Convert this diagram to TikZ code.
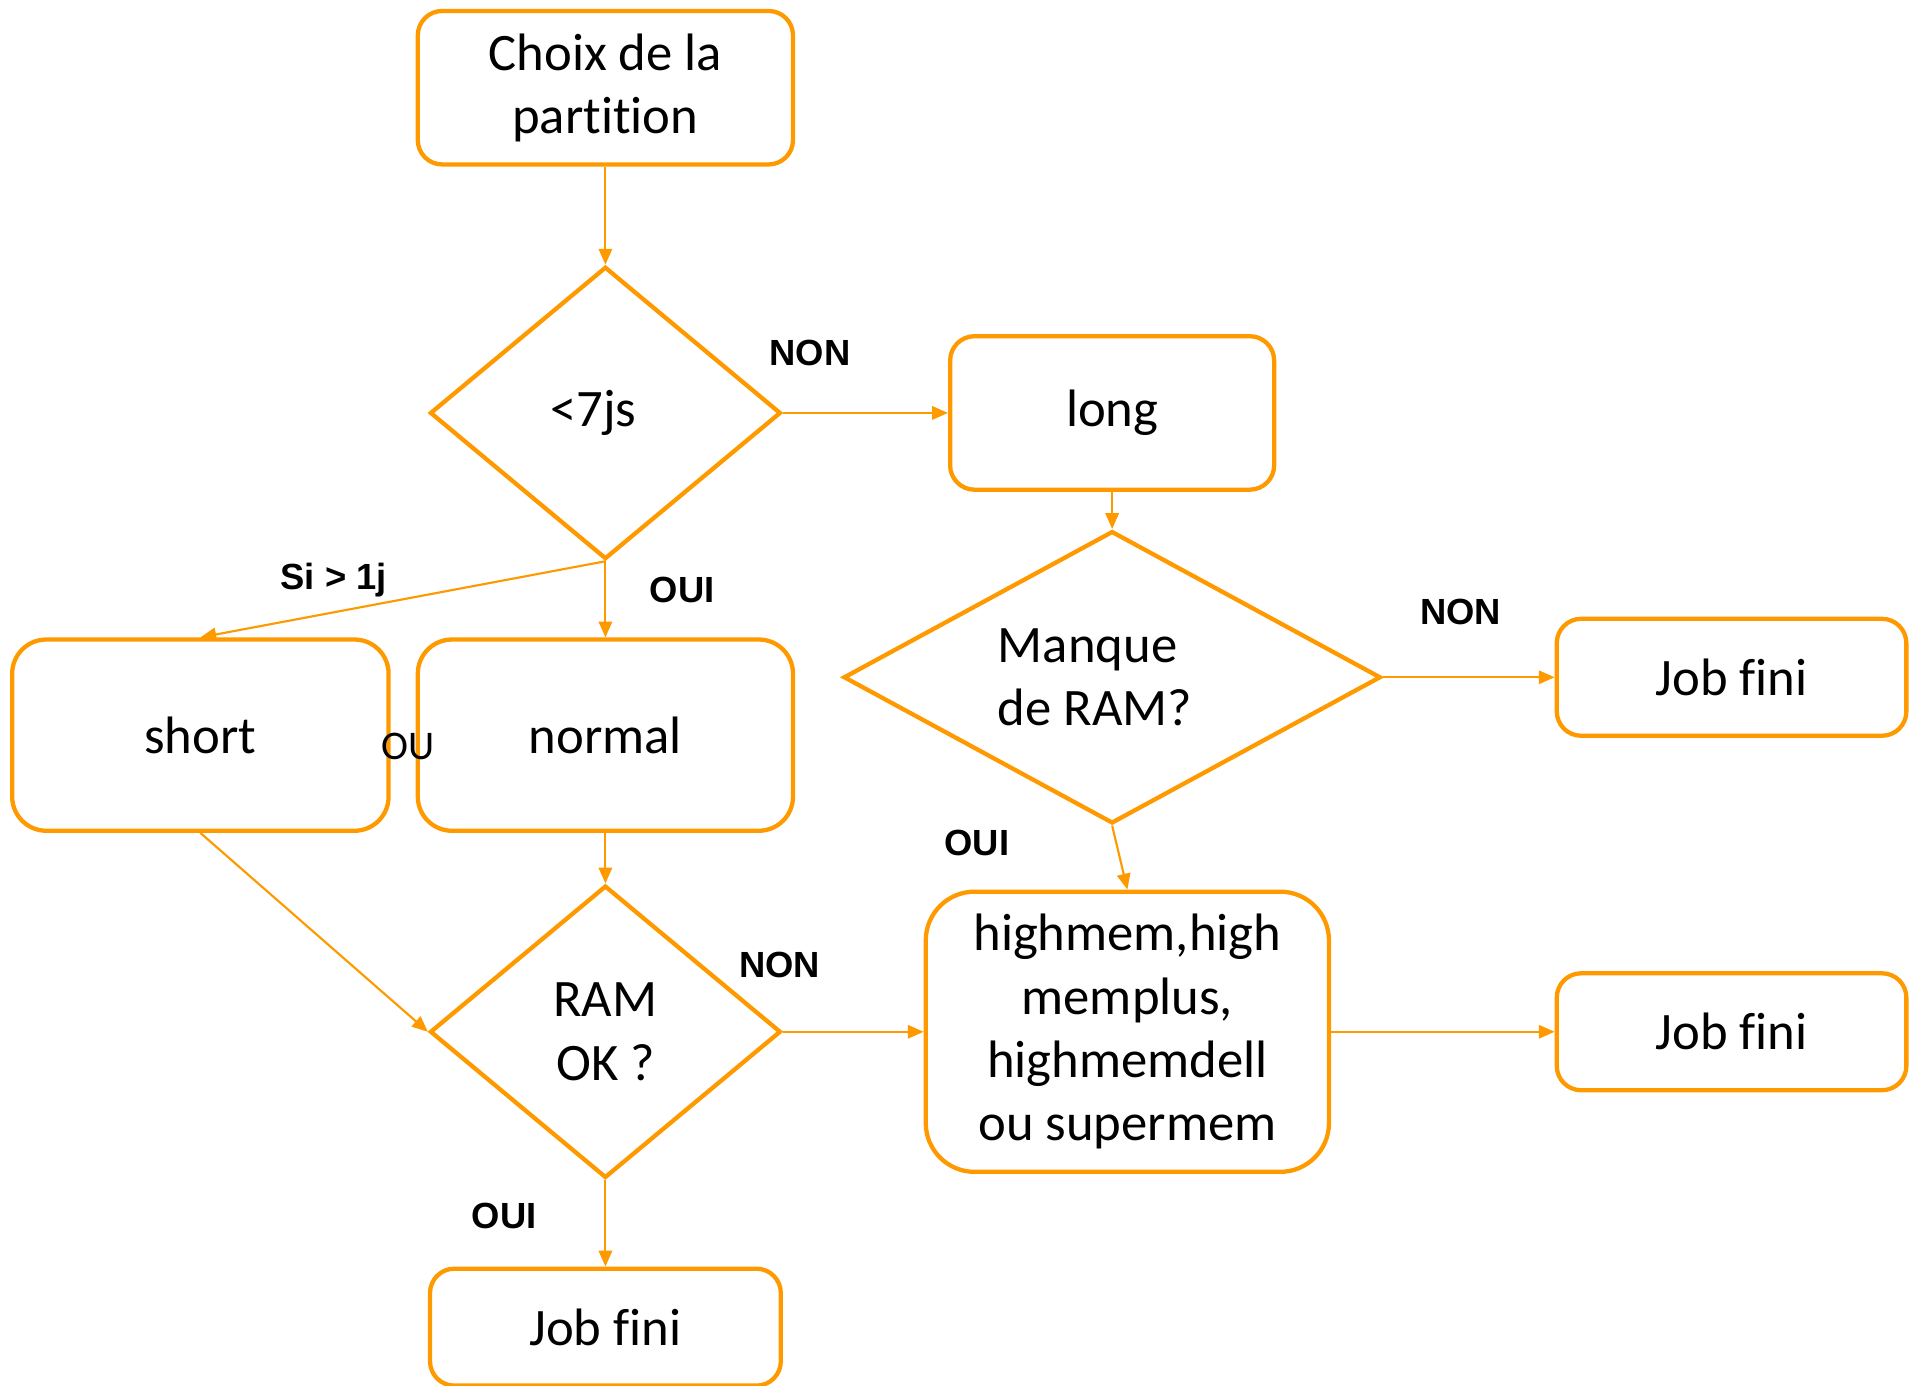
\documentclass[tikz,border=0pt]{standalone}
\usepackage{fontspec}
\setmainfont{Carlito}[Ligatures=NoCommon]
\newfontfamily\arialfont{Liberation Sans}
\usetikzlibrary{shapes.geometric,arrows.meta}
\definecolor{jaune}{RGB}{255,153,0}

\begin{document}
\begin{tikzpicture}[
            boite/.style={draw=jaune, line width=1pt, rounded corners=0.2cm, minimum width=2.88cm, minimum height=0.96cm, inner sep=0pt, align=center, font=\fontsize{12.3}{14.8}\selectfont},
            losange/.style={draw=jaune, line width=1pt, diamond, inner sep=0pt, align=center, font=\fontsize{12.3}{14.8}\selectfont},
            fleche/.style={draw=jaune, line width=0.5pt, -{Triangle[length=1.3mm, width=1.1mm]}},
            etiq/.style={font=\arialfont\bfseries\fontsize{8.5}{10}\selectfont},
            ou/.style={font=\fontsize{9.5}{11}\selectfont}
        ]
            \useasboundingbox (0, 0) rectangle (15.68, -11.37);
            \node[boite, minimum width=3.08cm, minimum height=1.26cm] (choix) at (4.97, -0.72) {Choix de la\\partition};
            \node[losange, minimum width=2.88cm, minimum height=2.40cm] (duree) at (4.97, -3.39) {<7js\hspace*{0.2cm}};
            \node[boite, minimum width=2.66cm, minimum height=1.26cm] (long) at (9.13, -3.39) {long};
            \node[losange, minimum width=4.41cm, minimum height=2.40cm, aspect=1.84, align=left] (manque) at (9.13, -5.56) {Manque\\de RAM?\hspace*{0.28cm}};
            \node[boite, minimum width=2.87cm] (fini1) at (14.215, -5.56) {Job fini};
            \node[boite, minimum width=3.09cm, minimum height=1.57cm, rounded corners=0.28cm] (short) at (1.645, -6.035) {short};
            \node[boite, minimum width=3.08cm, minimum height=1.57cm, rounded corners=0.28cm] (normal) at (4.97, -6.035) {normal};
            \node[losange, minimum width=2.88cm, minimum height=2.40cm] (ram) at (4.97, -8.47) {RAM\\OK ?};
            \node[boite, minimum width=3.31cm, minimum height=2.30cm, rounded corners=0.4cm] (highmem) at (9.255, -8.47) {highmem,high\\memplus,\\highmemdell\\ou supermem};
            \node[boite, minimum width=2.87cm] (fini2) at (14.215, -8.47) {Job fini};
            \node[boite] (fini3) at (4.97, -10.895) {Job fini};

            \draw[fleche] (choix) -- (duree);
            \draw[fleche] (duree) -- (long);
            \draw[fleche] (long) -- (manque);
            \draw[fleche] (manque) -- (fini1);
            \draw[fleche] (manque.south) -- (highmem.north);
            \draw[fleche] (duree.south) -- (normal);
            \draw[fleche] (duree.south) -- (short.north);
            \draw[fleche] (normal) -- (ram);
            \draw[fleche] (short.south) -- (ram.west);
            \draw[fleche] (ram) -- (highmem);
            \draw[fleche] (highmem) -- (fini2);
            \draw[fleche] (ram) -- (fini3);

            \node[etiq] (non1) at (6.65, -2.90) {NON};
            \node[etiq] (si) at (2.74, -4.76) {Si > 1j};
            \node[etiq] (oui1) at (5.60, -4.84) {OUI};
            \node[ou] (ouou) at (3.35, -6.13) {OU};
            \node[etiq] (non2) at (11.99, -5.02) {NON};
            \node[etiq] (oui2) at (8.02, -6.92) {OUI};
            \node[etiq] (non3) at (6.40, -7.92) {NON};
            \node[etiq] (oui3) at (4.14, -9.98) {OUI};
        \end{tikzpicture}
\end{document}
